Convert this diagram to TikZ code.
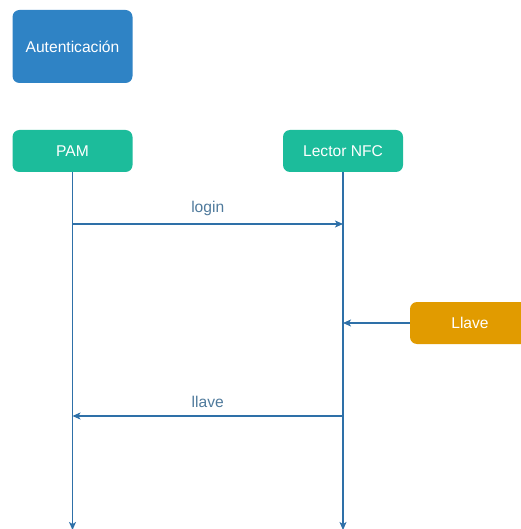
\documentclass[tikz,border=0pt]{standalone}
\usepackage{fontspec}
\setmainfont{Liberation Sans}
\usetikzlibrary{arrows.meta}
\definecolor{boxblue}{HTML}{2F83C5}
\definecolor{boxteal}{HTML}{1CBC9B}
\definecolor{boxorange}{HTML}{E19B00}
\definecolor{wire}{HTML}{2E70A8}
\definecolor{msgtext}{HTML}{4F7A9C}
\tikzset{
  box/.style={draw=none, rounded corners=7pt, minimum width=120pt, text=white,
    font=\fontsize{15.6pt}{18pt}\selectfont, inner sep=0pt},
  actor/.style={box, fill=boxteal, minimum height=42pt},
  wireline/.style={draw=wire, line width=1.2pt, -{Stealth[length=8pt,width=7pt,inset=2pt]}},
  msglabel/.style={text=msgtext, font=\fontsize{15.6pt}{18pt}\selectfont},
}
\begin{document}
\begin{tikzpicture}[x=1pt,y=-1pt]
\useasboundingbox (0,0) rectangle (520,529);
% title block
\node[box, fill=boxblue, minimum height=73pt] (title) at (72.5,46.5) {Autenticación};
% participants
\node[actor] (pam) at (72.5,151) {PAM};
\node[actor] (nfc) at (343,151) {Lector NFC};
\node[box, fill=boxorange, minimum height=42pt] (key) at (470,323) {Llave};
% lifeline ends
\coordinate (pamend) at (pam.south |- 0,530);
\coordinate (nfcend) at (nfc.south |- 0,530);
% message anchors on the lifelines
\coordinate (loginA) at (pam.south |- 0,224);
\coordinate (loginB) at (nfc.south |- 0,224);
\coordinate (keyIn) at (nfc.south |- key.west);
\coordinate (llaveA) at (nfc.south |- 0,416);
\coordinate (llaveB) at (pam.south |- 0,416);
% lifelines
\draw[wireline] (pam.south) -- (pamend);
\draw[wireline] (nfc.south) -- (nfcend);
% messages
\draw[wireline] (loginA) -- node[msglabel, above=4pt] {login} (loginB);
\draw[wireline] (key.west) -- (keyIn);
\draw[wireline] (llaveA) -- node[msglabel, above=4pt] {llave} (llaveB);
\end{tikzpicture}
\end{document}
